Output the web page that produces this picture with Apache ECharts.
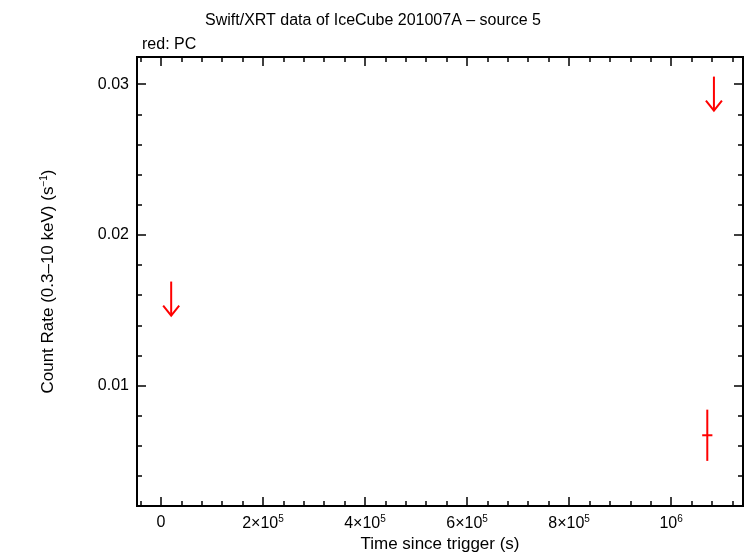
<!DOCTYPE html>
<html><head><meta charset="utf-8">
<script src="https://cdn.jsdelivr.net/npm/echarts@6/dist/echarts.min.js"></script>
<style>body{margin:0}#c{width:746px;height:558px}</style></head>
<body><div id="c"></div>
<script>
// upper limits: [time, value]
const ulTimes = [20000, 1084000];
const ulValues = [0.0169, 0.0305];
// detection: time, time err, rate, rate err low/high
const ptTimes = [1071000];
const ptTErr = [10000];
const ptRates = [0.0067];
const ptRLow = [0.0050];
const ptRHigh = [0.0084];
const xMajor = [0,200000,400000,600000,800000,1000000];
const xTickLabels = ['0','2×10{s|5}','4×10{s|5}','6×10{s|5}','8×10{s|5}','10{s|6}'];
const xMinor = [-40000,40000,80000,120000,160000,240000,280000,320000,360000,440000,480000,520000,560000,640000,680000,720000,760000,840000,880000,920000,960000,1040000,1080000,1120000];
const yMajor = [0.01,0.02,0.03];
const yTickLabels = ['0.01','0.02','0.03'];
const yMinor = [0.002,0.004,0.006,0.008,0.012,0.014,0.016,0.018,0.022,0.024,0.026,0.028];

const X0=-47000,X1=1141000,Y0=0.002,Y1=0.0318;
const chart = echarts.init(document.getElementById('c'));
const font = 'Liberation Sans';
function ax(pos,vals,len,labels,extra){
  return Object.assign({type:'value',position:pos,min:pos==='top'||pos==='bottom'?X0:Y0,max:pos==='top'||pos==='bottom'?X1:Y1,
    axisLine:{onZero:false,lineStyle:{color:'#000',width:2}},splitLine:{show:false},
    axisTick:{inside:true,length:len,customValues:vals,lineStyle:{width:1.5,color:'#000'}},
    axisLabel:labels?{fontFamily:font,fontSize:16,color:'#000',customValues:vals,
      formatter:(v)=>{const i=vals.findIndex(t=>Math.abs(t-v)<1e-9*Math.max(1,Math.abs(t)));return i>=0?labels[i]:'';},
      rich:{s:{fontSize:10,verticalAlign:'top',padding:[0,0,8,0]}}}:{show:false}},extra||{});
}
chart.setOption({
  animation:false,
  title:[{text:'Swift/XRT data of IceCube 201007A – source 5',left:'center',top:8,textStyle:{fontFamily:font,fontWeight:'normal',fontSize:16,color:'#000'}},
         {text:'red: PC',left:137,top:32,textStyle:{fontFamily:font,fontWeight:'normal',fontSize:16,color:'#000'}}],
  grid:{left:137,right:3,top:57,bottom:50},
  xAxis:[ax('bottom',xMajor,9,xTickLabels,{name:'Time since trigger (s)',nameLocation:'middle',nameGap:28,nameTextStyle:{fontFamily:font,fontSize:17,color:'#000'}}),
         ax('bottom',xMinor,5),ax('top',xMajor,9),ax('top',xMinor,5)],
  yAxis:[ax('left',yMajor,9,yTickLabels,{name:'Count Rate (0.3–10 keV) (s{s|−1})',nameLocation:'middle',nameGap:80,
    nameTextStyle:{fontFamily:font,fontSize:17,color:'#000',rich:{s:{fontSize:10,verticalAlign:'top',padding:[0,0,8,0]}}}}),
         ax('left',yMinor,5),ax('right',yMajor,9),ax('right',yMinor,5)],
  series:[
    {type:'custom',xAxisIndex:0,yAxisIndex:0,data:ulTimes.map((t,i)=>[t,ulValues[i]]),
     renderItem:(p,api)=>{const a=api.coord([api.value(0),api.value(1)]);const b=[a[0],a[1]+34];
       return {type:'group',children:[
        {type:'line',shape:{x1:a[0],y1:a[1],x2:b[0],y2:b[1]},style:{stroke:'red',lineWidth:2}},
        {type:'polyline',shape:{points:[[b[0]-8,b[1]-10],b,[b[0]+8,b[1]-10]]},style:{stroke:'red',lineWidth:2,fill:null}}]};}},
    {type:'custom',xAxisIndex:0,yAxisIndex:0,data:ptTimes.map((t,i)=>[t,ptRates[i],ptTErr[i],ptRLow[i],ptRHigh[i]]),
     renderItem:(p,api)=>{const t=api.value(0),r=api.value(1),e=api.value(2);
       const l=api.coord([t-e,r]),rr=api.coord([t+e,r]),lo=api.coord([t,api.value(3)]),hi=api.coord([t,api.value(4)]);
       return {type:'group',children:[
        {type:'line',shape:{x1:l[0],y1:l[1],x2:rr[0],y2:rr[1]},style:{stroke:'red',lineWidth:2}},
        {type:'line',shape:{x1:lo[0],y1:lo[1],x2:hi[0],y2:hi[1]},style:{stroke:'red',lineWidth:2}}]};}}
  ]
});
</script></body></html>
